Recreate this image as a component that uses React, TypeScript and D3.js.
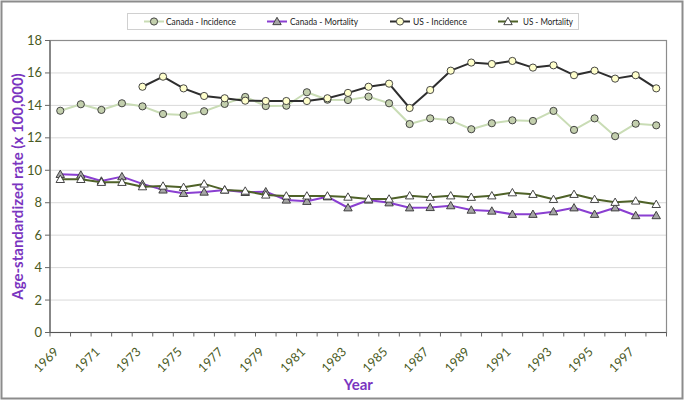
import React from "react";
import * as d3 from "d3";

const years = [
  "1969", "1970", "1971", "1972", "1973", "1974", "1975", "1976", "1977", "1978",
  "1979", "1980", "1981", "1982", "1983", "1984", "1985", "1986", "1987", "1988",
  "1989", "1990", "1991", "1992", "1993", "1994", "1995", "1996", "1997", "1998",
];

const canadaIncidence = [
  13.67, 14.07, 13.72, 14.13, 13.94, 13.47, 13.41, 13.64, 14.09, 14.52,
  13.96, 13.98, 14.81, 14.35, 14.33, 14.54, 14.13, 12.85, 13.2, 13.08,
  12.53, 12.9, 13.08, 13.04, 13.66, 12.49, 13.2, 12.1, 12.87, 12.77,
];

const usIncidence: (number | null)[] = [
  null, null, null, null, 15.15, 15.77, 15.05, 14.58, 14.44, 14.29,
  14.27, 14.27, 14.27, 14.44, 14.77, 15.15, 15.34, 13.84, 14.95, 16.14,
  16.64, 16.55, 16.74, 16.33, 16.47, 15.86, 16.14, 15.65, 15.86, 15.05,
];

const canadaMortality = [
  9.75, 9.71, 9.34, 9.61, 9.16, 8.79, 8.58, 8.66, 8.79, 8.64,
  8.68, 8.17, 8.09, 8.37, 7.69, 8.17, 8.0, 7.69, 7.71, 7.82,
  7.55, 7.49, 7.29, 7.29, 7.45, 7.69, 7.29, 7.69, 7.21, 7.21,
];

const usMortality = [
  9.44, 9.44, 9.26, 9.26, 8.99, 9.03, 8.95, 9.16, 8.79, 8.72,
  8.48, 8.42, 8.42, 8.42, 8.35, 8.23, 8.23, 8.43, 8.34, 8.43,
  8.34, 8.43, 8.62, 8.52, 8.21, 8.52, 8.21, 8.03, 8.11, 7.9,
];

const yTicks = [0, 2, 4, 6, 8, 10, 12, 14, 16, 18];
const xLabelYears = ["1969", "1971", "1973", "1975", "1977", "1979", "1981", "1983", "1985", "1987", "1989", "1991", "1993", "1995", "1997"];

const seriesNames = ["Canada - Incidence", "Canada - Mortality", "US - Incidence", "US - Mortality"];

const FONT = "Lato, 'Open Sans', sans-serif";
const AXIS_COLOR = "#4a5a23";
const PURPLE = "#7a35c0";

type Series = {
  name: string;
  values: (number | null)[];
  line: string;
  marker: "circle" | "triangle";
  fill: string;
  width: number;
};

const series: Series[] = [
  { name: seriesNames[0], values: canadaIncidence, line: "#c9dcb5", marker: "circle", fill: "#c3cfad", width: 2 },
  { name: seriesNames[1], values: canadaMortality, line: "#8a3fd1", marker: "triangle", fill: "#a6a6a6", width: 2 },
  { name: seriesNames[2], values: usIncidence, line: "#2e2e2e", marker: "circle", fill: "#ffffcc", width: 2 },
  { name: seriesNames[3], values: usMortality, line: "#4f6228", marker: "triangle", fill: "#ffffff", width: 2 },
];

function Marker({ kind, x, y, fill }: { kind: string; x: number; y: number; fill: string }) {
  if (kind === "circle") {
    return <circle cx={x} cy={y} r={3.6} fill={fill} stroke="#333" strokeWidth={0.9} />;
  }
  const s = 4.2;
  const p = `${x},${y - s} ${x + s},${y + s * 0.75} ${x - s},${y + s * 0.75}`;
  return <polygon points={p} fill={fill} stroke="#333" strokeWidth={0.9} />;
}

export default function App() {
  const W = 685;
  const H = 402;
  const left = 50;
  const right = 666.5;
  const top = 40.5;
  const bottom = 332.5;

  const x = d3.scaleBand<string>().domain(years).range([left, right]).paddingInner(0).paddingOuter(0);
  const bw = x.bandwidth();
  const cx = (yr: string) => (x(yr) as number) + bw / 2;
  const y = d3.scaleLinear().domain([0, 18]).range([bottom, top]);

  const lineGen = d3
    .line<number | null>()
    .defined((d) => d !== null)
    .x((_, i) => cx(years[i]))
    .y((d) => y(d as number));

  const legendItems = [
    { s: series[0], lx: 144, tx: 166, tl: 70 },
    { s: series[1], lx: 267, tx: 290, tl: 68 },
    { s: series[2], lx: 390, tx: 413, tl: 54 },
    { s: series[3], lx: 498, tx: 523, tl: 50 },
  ];
  const ly = 21.5;

  return (
    <svg width={W} height={H} style={{ position: "absolute", left: 0, top: 0 }} fontFamily={FONT}>
      <rect x={0} y={0} width={W} height={H} fill="#fff" />
      <rect x={1.5} y={1.5} width={681} height={397} fill="none" stroke="#8c8c8c" strokeWidth={2} />

      {/* gridlines */}
      {yTicks.map((t) => (
        <line key={"g" + t} x1={left} x2={right} y1={y(t)} y2={y(t)} stroke="#d9d9d9" strokeWidth={1} />
      ))}
      {/* plot border */}
      <rect x={left} y={top} width={right - left} height={bottom - top} fill="none" stroke="#8c8c8c" strokeWidth={1.2} />
      {/* axes */}
      <line x1={left} x2={left} y1={top} y2={bottom} stroke="#666" strokeWidth={1.2} />
      <line x1={left} x2={right} y1={bottom} y2={bottom} stroke="#555" strokeWidth={1.2} />

      {/* y ticks */}
      {yTicks.map((t) => (
        <g key={"yt" + t}>
          <line x1={left - 5} x2={left} y1={y(t)} y2={y(t)} stroke="#666" strokeWidth={1} />
          <text x={left - 8} y={y(t)} dy="0.35em" textAnchor="end" fontSize={13} fill={AXIS_COLOR}>
            {t}
          </text>
        </g>
      ))}

      {/* x ticks */}
      {years.concat(["end"]).map((yr, i) => {
        const xx = left + i * bw;
        return <line key={"xt" + i} x1={xx} x2={xx} y1={bottom} y2={bottom + 4} stroke="#666" strokeWidth={1} />;
      })}
      {xLabelYears.map((yr) => {
        const tx = cx(yr) - 7;
        const ty = bottom + 14;
        return (
          <text
            key={"xl" + yr}
            x={tx}
            y={ty}
            textAnchor="end"
            dy="0.7em"
            fontSize={12.5}
            fill={AXIS_COLOR}
            transform={`rotate(-45 ${tx} ${ty})`}
          >
            {yr}
          </text>
        );
      })}

      {/* series */}
      {series.map((s) => (
        <g key={s.name}>
          <path d={lineGen(s.values) || ""} fill="none" stroke={s.line} strokeWidth={s.width} strokeLinejoin="round" />
          {s.values.map((v, i) =>
            v === null ? null : <Marker key={i} kind={s.marker} x={cx(years[i])} y={y(v)} fill={s.fill} />
          )}
        </g>
      ))}

      {/* axis titles */}
      <text
        x={18}
        y={(top + bottom) / 2}
        transform={`rotate(-90 18 ${(top + bottom) / 2})`}
        textAnchor="middle"
        dy="0.35em"
        fontSize={15}
        fontWeight="bold"
        fill={PURPLE}
      >
        Age-standardized rate (x 100,000)
      </text>
      <text x={(left + right) / 2} y={385} textAnchor="middle" dy="0.35em" fontSize={15} fontWeight="bold" fill={PURPLE}>
        Year
      </text>

      {/* legend */}
      <rect x={127.5} y={13.5} width={451} height={16} fill="#fff" stroke="#d0d0d0" strokeWidth={1} />
      {legendItems.map(({ s, lx, tx, tl }) => (
        <g key={"lg" + s.name}>
          <line x1={lx} x2={lx + 20} y1={ly} y2={ly} stroke={s.line} strokeWidth={s.width} />
          <Marker kind={s.marker} x={lx + 10} y={ly} fill={s.fill} />
          <text
            x={tx}
            y={ly}
            dy="0.35em"
            fontSize={10}
            fill="#222"
            textLength={tl}
            lengthAdjust="spacingAndGlyphs"
          >
            {s.name}
          </text>
        </g>
      ))}
    </svg>
  );
}
